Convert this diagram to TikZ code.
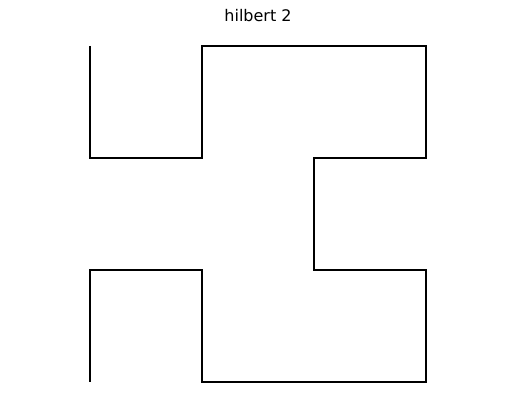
\documentclass[tikz,border=0pt]{standalone}
\usepackage{fontspec}
\setmainfont{DejaVu Sans}
\begin{document}
\begin{tikzpicture}[x=1pt,y=-1pt,
  curve/.style={line width=2pt,line cap=butt,line join=miter},
  titlestyle/.style={font=\fontsize{16}{19}\selectfont,anchor=base,inner sep=0pt}]
\useasboundingbox (0,0) rectangle (515,409);
\coordinate (p0) at (90,46);
\coordinate (p1) at (90,158);
\coordinate (p2) at (202,158);
\coordinate (p3) at (202,46);
\coordinate (p4) at (426,46);
\coordinate (p5) at (426,158);
\coordinate (p6) at (314,158);
\coordinate (p7) at (314,270);
\coordinate (p8) at (426,270);
\coordinate (p9) at (426,382);
\coordinate (p10) at (202,382);
\coordinate (p11) at (202,270);
\coordinate (p12) at (90,270);
\coordinate (p13) at (90,382);
\draw[curve] (p0) -- (p1) -- (p2) -- (p3) -- (p4) -- (p5) -- (p6) -- (p7) -- (p8) -- (p9) -- (p10) -- (p11) -- (p12) -- (p13);
\node[titlestyle] (title) at (258,22) {hilbert 2};
\end{tikzpicture}
\end{document}
